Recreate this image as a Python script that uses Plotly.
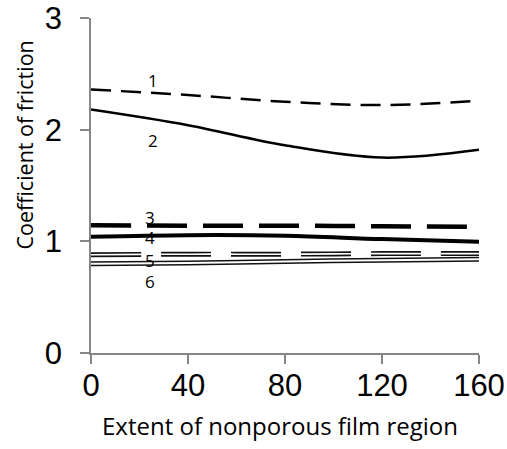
import plotly.graph_objects as go

x_vals = [0, 40, 80, 120, 160]
curve1 = [2.36, 2.31, 2.25, 2.22, 2.26]
curve2 = [2.18, 2.04, 1.86, 1.75, 1.82]
curve3 = [1.145, 1.14, 1.14, 1.135, 1.13]
curve4 = [1.04, 1.055, 1.05, 1.02, 0.997]
curve5 = [0.88, 0.885, 0.885, 0.89, 0.89]
curve6 = [0.80, 0.805, 0.82, 0.83, 0.84]

label_names = ["1", "2", "3", "4", "5", "6"]
label_x = [25.6, 25.6, 24.3, 24.3, 24.3, 24.3]
label_y = [2.44, 1.90, 1.21, 1.03, 0.83, 0.64]

x_ticks = [0, 40, 80, 120, 160]
y_ticks = [0, 1, 2, 3]

x_title = "Extent of nonporous film region"
y_title = "Coefficient of friction"

fig = go.Figure()

def add(y, color, width, dash="solid"):
    fig.add_trace(go.Scatter(x=x_vals, y=y, mode="lines",
                             line=dict(color=color, width=width, dash=dash, shape="spline"),
                             showlegend=False, hoverinfo="skip"))

add(curve1, "black", 2.5, "20px,10px")
add(curve2, "black", 2.5)
add(curve3, "black", 4.5, "40px,16px")
add(curve4, "black", 4)
add(curve5, "#111111", 5, "50px,20px")
add(curve5, "white", 1.6, "50px,20px")
add(curve6, "#111111", 5)
add(curve6, "white", 2)

for t, lx, ly in zip(label_names, label_x, label_y):
    fig.add_annotation(x=lx, y=ly, text=t, showarrow=False,
                       font=dict(family="Open Sans, sans-serif", size=17, color="black"))

title_font = dict(family="Open Sans, sans-serif", color="black")
fig.add_annotation(xref="paper", yref="paper", x=0.486, y=-0.215, text=x_title,
                   showarrow=False, xanchor="center", yanchor="middle",
                   font=dict(size=24, **title_font))
fig.add_annotation(xref="paper", yref="paper", x=-0.172, y=0.62, text=y_title,
                   showarrow=False, xanchor="center", yanchor="middle", textangle=-90,
                   font=dict(size=21.5, **title_font))

axis_common = dict(showgrid=False, zeroline=False, showline=True, linecolor="#868686",
                   linewidth=1.5, ticks="outside", ticklen=9, tickcolor="#868686", tickwidth=1.5,
                   automargin=False,
                   tickfont=dict(family="Liberation Sans, Arial, sans-serif", size=31, color="black"))

fig.update_xaxes(range=[0, 160], tickvals=x_ticks, **axis_common, ticklabelstandoff=-5)
fig.update_yaxes(range=[0, 3], tickvals=y_ticks, **axis_common, ticklabelstandoff=12)

fig.update_layout(width=507, height=449, plot_bgcolor="white", paper_bgcolor="white",
                  margin=dict(l=91, r=28, t=18, b=96))

fig.write_html("out.html", config={"displayModeBar": False},
               post_script="document.body.style.margin='0';")
